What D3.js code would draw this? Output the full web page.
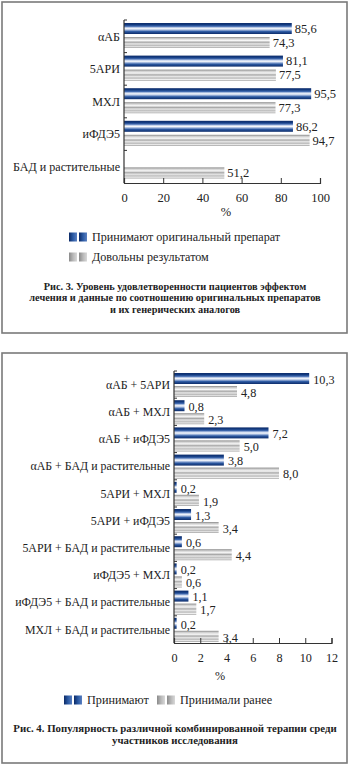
<!DOCTYPE html>
<html><head><meta charset="utf-8">
<script src="https://cdn.jsdelivr.net/npm/d3@7"></script>
<style>
html,body{margin:0;padding:0;background:#fff;}
svg{display:block;}
text{font-family:"Liberation Serif","Times New Roman",serif;fill:#222;}
</style></head>
<body>
<svg id="c" width="350" height="765"></svg>
<script>
// Figure 3 data
const cats1 = ["αАБ", "5АРИ", "МХЛ", "иФДЭ5", "БАД и растительные"];
const taking1 = [85.6, 81.1, 95.5, 86.2, null];
const satisfied1 = [74.3, 77.5, 77.3, 94.7, 51.2];
const ticks1 = [0, 20, 40, 60, 80, 100];
const legend1 = ["Принимают оригинальный препарат", "Довольны результатом"];
const caption1 = ["Рис. 3. Уровень удовлетворенности пациентов эффектом",
  "лечения и данные по соотношению оригинальных препаратов",
  "и их генерических аналогов"];

// Figure 4 data
const cats2 = ["αАБ + 5АРИ", "αАБ + МХЛ", "αАБ + иФДЭ5", "αАБ + БАД и растительные",
  "5АРИ + МХЛ", "5АРИ + иФДЭ5", "5АРИ + БАД и растительные", "иФДЭ5 + МХЛ",
  "иФДЭ5 + БАД и растительные", "МХЛ + БАД и растительные"];
const taking2 = [10.3, 0.8, 7.2, 3.8, 0.2, 1.3, 0.6, 0.2, 1.1, 0.2];
const before2 = [4.8, 2.3, 5.0, 8.0, 1.9, 3.4, 4.4, 0.6, 1.7, 3.4];
const ticks2 = [0, 2, 4, 6, 8, 10, 12];
const legend2 = ["Принимают", "Принимали ранее"];
const caption2 = ["Рис. 4. Популярность различной комбинированной терапии среди",
  "участников исследования"];

const svg = d3.select("#c");
const defs = svg.append("defs");

function grad(id, stops, horiz) {
  const g = defs.append("linearGradient").attr("id", id)
    .attr("x1", 0).attr("y1", 0).attr("x2", horiz ? 1 : 0).attr("y2", horiz ? 0 : 1);
  stops.forEach(s => g.append("stop").attr("offset", s[0]).attr("stop-color", s[1]));
}
const blueStops = [[0, "#0d2c6a"], [0.15, "#123a80"], [0.3, "#3f68ae"], [0.42, "#c4d2ec"],
  [0.52, "#f6f8fc"], [0.64, "#9db3da"], [0.78, "#2a57a0"], [1, "#0d2c6a"]];
const greyStops = [[0, "#8a8a8a"], [0.15, "#cfcfcf"], [0.32, "#f7f7f7"], [0.48, "#a9a9a9"],
  [0.62, "#e6e6e6"], [0.78, "#bcbcbc"], [0.9, "#eeeeee"], [1, "#8c8c8c"]];
grad("gBlue", blueStops, false);
grad("gGrey", greyStops, false);
grad("lBlue", [[0, "#0c2a66"], [0.5, "#2b5aa4"], [1, "#5a7fc0"]], true);
grad("lGrey", [[0, "#8a8a8a"], [0.5, "#b8b8b8"], [1, "#d8d8d8"]], true);

// Frames
svg.append("rect").attr("x", 2).attr("y", 2).attr("width", 345).attr("height", 331)
  .attr("fill", "none").attr("stroke", "#7a7a7a").attr("stroke-width", 1.6);
svg.append("rect").attr("x", 2).attr("y", 353).attr("width", 345).attr("height", 410)
  .attr("fill", "none").attr("stroke", "#7a7a7a").attr("stroke-width", 1.6);

function chart(cfg) {
  const g = svg.append("g");
  const x = d3.scaleLinear().domain(cfg.domain).range([cfg.x0, cfg.x1]);
  const y = d3.scaleBand().domain(cfg.cats).range([cfg.y0, cfg.y1]);
  const ys = d3.scaleBand().domain(["a", "b"]).range(cfg.inner).paddingInner(cfg.pin);
  const rows = cfg.cats.map((c, i) => ({c, a: cfg.s1[i], b: cfg.s2[i]}));

  ["a", "b"].forEach(k => {
    const data = rows.filter(r => r[k] != null);
    g.selectAll(".bar" + k).data(data).enter().append("rect")
      .attr("x", x(0))
      .attr("y", d => y(d.c) + ys(k))
      .attr("width", d => x(d[k]) - x(0))
      .attr("height", ys.bandwidth())
      .attr("fill", k === "a" ? "url(#gBlue)" : "url(#gGrey)");
    g.selectAll(".lab" + k).data(data).enter().append("text")
      .attr("x", d => x(d[k]) + cfg.labGap)
      .attr("y", d => y(d.c) + ys(k) + ys.bandwidth() / 2 + cfg.labDy)
      .attr("dy", "0.35em")
      .attr("font-size", cfg.vfs)
      .text(d => d3.format(".1f")(d[k]).replace(".", ","));
  });

  const ya = g.append("g");
  ya.append("line").attr("x1", x(0)).attr("x2", x(0)).attr("y1", cfg.y0).attr("y2", cfg.y1)
    .attr("stroke", "#333").attr("stroke-width", 1.2);
  ya.selectAll(".yt").data(cfg.cats).enter().append("line")
    .attr("x1", x(0)).attr("x2", x(0) + 3)
    .attr("y1", d => y(d)).attr("y2", d => y(d))
    .attr("stroke", "#333");
  ya.selectAll(".yl").data(cfg.cats).enter().append("text")
    .attr("x", x(0) - 4)
    .attr("y", d => y(d) + y.bandwidth() / 2)
    .attr("dy", "0.35em").attr("text-anchor", "end").attr("font-size", cfg.fs)
    .text(d => d);

  const xa = g.append("g").attr("transform", `translate(0,${cfg.y1})`)
    .call(d3.axisBottom(x).tickValues(cfg.ticks).tickSize(-5).tickPadding(10)
      .tickFormat(d => String(d)));
  xa.select(".domain").attr("stroke", "#333").attr("stroke-width", 1.2);
  xa.selectAll(".tick line").attr("stroke", "#333");
  xa.selectAll(".tick text").attr("font-size", cfg.vfs)
    .attr("font-family", "Liberation Serif, serif").attr("fill", "#222");

  g.append("text").attr("x", cfg.pctX).attr("y", cfg.pctY)
    .attr("text-anchor", "middle").attr("dy", "0.35em").attr("font-size", cfg.vfs).text("%");
}

chart({cats: cats1, s1: taking1, s2: satisfied1, domain: [0, 100], ticks: ticks1,
  x0: 124, x1: 320, y0: 20, y1: 183, inner: [3, 28], pin: 0.214,
  labGap: 3, labDy: 0, fs: 12.1, vfs: 12.5, pctX: 226, pctY: 212});

chart({cats: cats2, s1: taking2, s2: before2, domain: [0, 12], ticks: ticks2,
  x0: 174, x1: 331.5, y0: 371, y1: 643, inner: [2, 26], pin: 0.154,
  labGap: 4, labDy: 1, fs: 11.9, vfs: 12.2, pctX: 220, pctY: 676});

// Legends
function legendItem(text, fillId, p, y, fs) {
  svg.append("rect").attr("x", p).attr("y", y - 4.5).attr("width", 8).attr("height", 9).attr("fill", fillId);
  svg.append("rect").attr("x", p + 10).attr("y", y - 4.5).attr("width", 8).attr("height", 9).attr("fill", fillId);
  svg.append("text").attr("x", p + 23).attr("y", y).attr("dy", "0.35em")
    .attr("font-size", fs).text(text);
}
legendItem(legend1[0], "url(#lBlue)", 69, 237, 12.1);
legendItem(legend1[1], "url(#lGrey)", 69, 257, 12.1);
legendItem(legend2[0], "url(#lBlue)", 64, 700, 12.2);
legendItem(legend2[1], "url(#lGrey)", 157, 700, 12.2);

// Captions
function caption(lines, y0, lh, fs) {
  lines.forEach((t, i) => {
    svg.append("text").attr("x", 175).attr("y", y0 + i * lh).attr("dy", "0.35em")
      .attr("text-anchor", "middle").attr("font-size", fs).attr("font-weight", "bold")
      .attr("fill", "#111").text(t);
  });
}
caption(caption1, 286, 11.8, 10.3);
caption(caption2, 728, 12, 10.8);
</script>
</body></html>
